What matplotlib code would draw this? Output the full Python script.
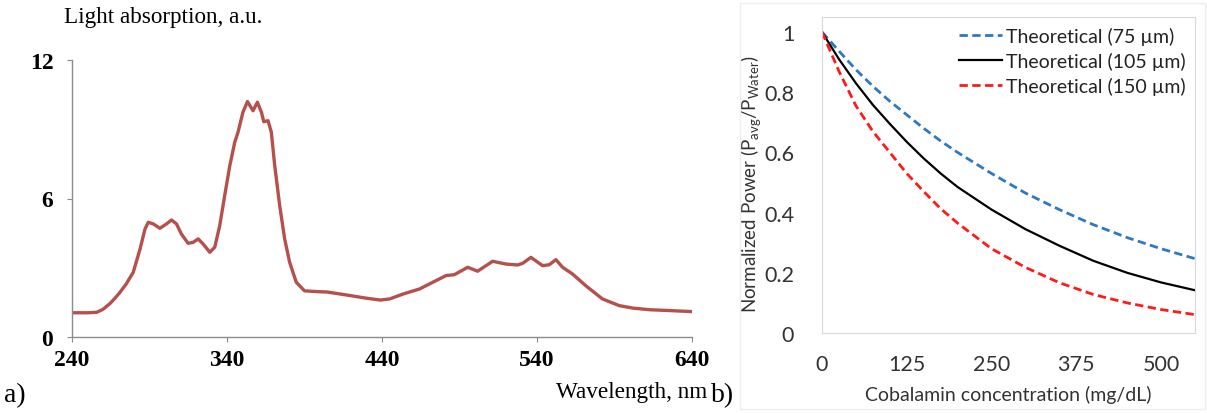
import numpy as np
import matplotlib
matplotlib.use("Agg")
import matplotlib.pyplot as plt
from matplotlib.patches import Rectangle

# panel a) absorption spectrum
wavelength = [240, 250, 256, 260, 264.5, 268, 271, 275, 279.5, 283.9, 287.1, 289.2, 292.4,
              296.7, 301, 304.2, 307.4, 310.6, 314.9, 318.1, 321.4, 324.6, 328.9, 332.1,
              335.3, 338.5, 341.8, 345, 347.1, 350.3, 353.2, 356.8, 359.6, 362.2, 363.7,
              366.5, 368.6, 370.8, 374, 377.2, 380.4, 384.7, 390, 399.7, 404.5, 419, 430,
              439, 445, 453.5, 464.2, 472.7, 481.3, 486.7, 495.3, 501.7, 511.4, 520,
              527.5, 530.7, 536.1, 543.6, 547.9, 552.2, 556.5, 562.9, 571.5, 582.2, 593,
              602, 613, 624, 640]
absorption = [1.05, 1.05, 1.07, 1.2, 1.45, 1.7, 1.94, 2.3, 2.8, 3.81, 4.68, 4.97, 4.9,
              4.71, 4.9, 5.07, 4.9, 4.46, 4.06, 4.1, 4.25, 4.03, 3.67, 3.89,
              4.82, 6.12, 7.42, 8.44, 8.87, 9.74, 10.2, 9.8, 10.17, 9.74, 9.33,
              9.37, 8.87, 7.42, 5.69, 4.25, 3.24, 2.37, 2.0, 1.96, 1.95, 1.8, 1.68,
              1.6, 1.65, 1.86, 2.08, 2.37, 2.66, 2.7, 3.02, 2.85, 3.28, 3.16,
              3.12, 3.19, 3.45, 3.09, 3.13, 3.35, 3.02, 2.73, 2.22, 1.65, 1.36,
              1.25, 1.18, 1.15, 1.1]
a_xticks = [240, 340, 440, 540, 640]
a_yticks = [0, 6, 12]

# panel b) normalized power vs cobalamin concentration
conc = [0, 25, 50, 75, 100, 125, 150, 175, 200, 250, 300, 350, 400, 450, 500, 550]
p75 = [1.0, 0.937, 0.875, 0.82, 0.77, 0.725, 0.68, 0.638, 0.60, 0.53, 0.465, 0.41,
       0.36, 0.317, 0.28, 0.247]
p105 = [1.0, 0.91, 0.83, 0.758, 0.695, 0.635, 0.58, 0.53, 0.485, 0.41, 0.345, 0.29,
        0.24, 0.20, 0.168, 0.142]
p150 = [1.0, 0.87, 0.755, 0.67, 0.60, 0.53, 0.47, 0.413, 0.365, 0.28, 0.218, 0.167,
        0.128, 0.10, 0.078, 0.061]
b_xticks = [0, 125, 250, 375, 500]
b_yticks = [0, 0.2, 0.4, 0.6, 0.8, 1]
b_yticklabels = ["0", "0.2", "0.4", "0.6", "0.8", "1"]

W, H = 1207, 414
fig = plt.figure(figsize=(W / 100, H / 100), dpi=100)

serif = "Liberation Serif"
sans = "Lato"

# ---- panel a
ax1 = fig.add_axes([72 / W, 76 / H, 620 / W, 277 / H])
ax1.plot(wavelength, absorption, color="#b5504c", lw=2.4, solid_joinstyle="round",
         solid_capstyle="round")
ax1.set_xlim(240, 640)
ax1.set_ylim(0, 12)
ax1.set_xticks(a_xticks)
ax1.set_yticks(a_yticks)
for s in ["top", "right"]:
    ax1.spines[s].set_visible(False)
for s in ["left", "bottom"]:
    ax1.spines[s].set_color("#8c8c8c")
    ax1.spines[s].set_linewidth(1.0)
ax1.tick_params(direction="out", length=3.5, color="#8c8c8c")
ax1.tick_params(axis="x", pad=5)
ax1.tick_params(axis="y", pad=10)
for lab in ax1.get_xticklabels() + ax1.get_yticklabels():
    lab.set_fontfamily(serif)
    lab.set_fontweight("bold")
    lab.set_fontsize(17)

fig.text(64 / W, 1 - 17 / H, "Light absorption, a.u.", family=serif, fontsize=16.7,
         ha="left", va="center")
fig.text(707 / W, 1 - 393 / H, "Wavelength, nm", family=serif, fontsize=16.7,
         ha="right", va="center")
fig.text(4 / W, 1 - 396 / H, "a)", family=serif, fontsize=20, ha="left", va="center")
fig.text(711 / W, 1 - 396 / H, "b)", family=serif, fontsize=20, ha="left", va="center")

# faint frame around panel b
fig.patches.append(Rectangle((740 / W, 4 / H), 465 / W, 406 / H, transform=fig.transFigure,
                             fill=False, edgecolor="#eeeeee", lw=1))

# ---- panel b
ax2 = fig.add_axes([822 / W, 80 / H, 373 / W, 316 / H])
ax2.plot(conc, p75, color="#2e78c4", lw=2, ls=(0, (3, 1.6)), label="Theoretical (75 µm)")
ax2.plot(conc, p105, color="black", lw=1.6, label="Theoretical (105 µm)")
ax2.plot(conc, p150, color="#ff1a1a", lw=2, ls=(0, (3, 1.6)), label="Theoretical (150 µm)")
ax2.set_xlim(0, 550)
ax2.set_ylim(0, 1.05)
ax2.set_xticks(b_xticks)
ax2.set_yticks(b_yticks)
ax2.set_yticklabels(b_yticklabels)
for s in ax2.spines.values():
    s.set_color("#d9d9d9")
ax2.tick_params(length=0, labelsize=15.5, colors="#333333")
ax2.tick_params(axis="x", pad=15)
ax2.tick_params(axis="y", pad=20)
for lab in ax2.get_xticklabels() + ax2.get_yticklabels():
    lab.set_fontfamily(sans)
ax2.set_xlabel("Cobalamin concentration (mg/dL)", family=sans, fontsize=14,
               color="#333333", labelpad=8)
ax2.set_ylabel(r"Normalized Power (P$_{\mathregular{avg}}$/P$_{\mathregular{Water}}$)",
               family=sans, fontsize=13.5, color="#333333")
ax2.yaxis.set_label_coords(-0.155, 0.475)
leg = ax2.legend(loc="upper right", frameon=False, prop={"family": sans, "size": 14},
                 handlelength=2.2, handletextpad=0.2, labelspacing=0.35,
                 borderaxespad=0.1, bbox_to_anchor=(1.0, 1.0))
for t in leg.get_texts():
    t.set_color("#222222")

fig.savefig("out.png", dpi=100)
